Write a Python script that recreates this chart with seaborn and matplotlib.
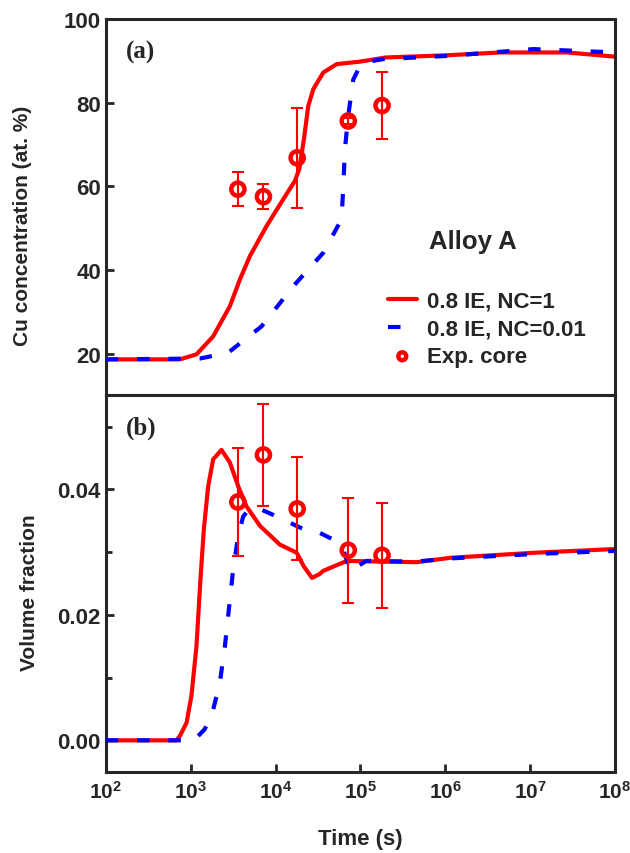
"""Cu concentration and volume fraction vs. time, Alloy A (two stacked panels)."""
import matplotlib
matplotlib.use("Agg")
import matplotlib.pyplot as plt
import pandas as pd
import seaborn as sns
from matplotlib.ticker import FixedLocator, FixedFormatter, MultipleLocator

# ---- panel (a): Cu concentration (at. %) ----
t_cu_nc1 = [100, 746, 1170, 1841, 2895, 3800, 4990, 7850, 12340, 16950,
            19050, 21630, 24320, 27860, 36560, 52500, 98800, 200000,
            1000000, 4500000, 27000000, 100000000]
cu_nc1 = [18.6, 18.6, 19.8, 24.1, 31.3, 37.7, 43.3, 50.5, 56.9, 61.3,
          64.1, 71.3, 79.2, 83.2, 87.2, 89.2, 89.8, 90.8,
          91.3, 92.0, 92.0, 91.0]

t_cu_nc001 = [100, 1283, 2766, 6850, 16200, 36560, 60000, 62700, 65800,
              71900, 82400, 98800, 117000, 186000, 1150000, 11000000,
              100000000]
cu_nc001 = [18.6, 18.8, 20.2, 26.5, 36.1, 44.1, 52.1, 59.3, 68.9,
            76.8, 85.5, 88.7, 89.7, 90.4, 91.2, 92.8, 92.0]

# ---- panel (b): volume fraction ----
t_vf_nc1 = [100, 680, 746, 894, 1021, 1170, 1304, 1429, 1607, 1841, 2309,
            2895, 3632, 4550, 6546, 11270, 17800, 21400, 26900, 33000,
            36300, 69000, 457000, 1150000, 11000000, 100000000]
vf_nc1 = [0.0, 0.0, 0.0007, 0.0028, 0.0071, 0.0150, 0.0257, 0.0336, 0.0405,
          0.0448, 0.0463, 0.0443, 0.0405, 0.0373, 0.0342, 0.0312, 0.0299,
          0.0278, 0.0259, 0.0265, 0.0270, 0.0286, 0.0284, 0.0291, 0.0299,
          0.0305]

t_vf_nc001 = [100, 1000, 1170, 1469, 1841, 2208, 2530, 2846, 3171, 3632,
              4159, 4990, 6250, 10700, 23400, 33000, 47900, 63000, 76000,
              117000, 457000, 1150000, 11000000, 100000000]
vf_nc001 = [0.0, 0.0, 0.0004, 0.0018, 0.0049, 0.0092, 0.0150, 0.0214,
            0.0273, 0.0326, 0.0357, 0.0370, 0.0370, 0.0356, 0.0334, 0.0331,
            0.0320, 0.0304, 0.0270, 0.0286, 0.0285, 0.0290, 0.0297, 0.0302]

# ---- experimental core measurements ----
t_exp = [3600, 7200, 18000, 72000, 180000]
cu_exp = [59.3, 57.5, 66.8, 75.6, 79.3]
cu_err = [4.0, 3.0, 12.0, 0.8, 8.0]
vf_exp = [0.0380, 0.0455, 0.0369, 0.0303, 0.0295]
vf_err = [0.0086, 0.0081, 0.0082, 0.0084, 0.0084]

ROJO = "#ff0000"
AZUL = "#0000ff"

sns.set_style("ticks")
plt.rcParams["font.family"] = ["Liberation Sans", "DejaVu Sans"]
plt.rcParams["font.weight"] = "bold"
plt.rcParams["axes.labelweight"] = "bold"
plt.rcParams["mathtext.fontset"] = "custom"
plt.rcParams["mathtext.rm"] = "Liberation Sans:bold"
plt.rcParams["mathtext.bf"] = "Liberation Sans:bold"
plt.rcParams["axes.linewidth"] = 2.2


def dibujar_panel(ax, t1, y1, t2, y2, y_exp, y_err, etiquetas):
    d1 = pd.DataFrame({"t": t1, "y": y1})
    d2 = pd.DataFrame({"t": t2, "y": y2})
    dexp = pd.DataFrame({"t": t_exp, "y": y_exp, "err": y_err})
    sns.lineplot(data=d1, x="t", y="y", color=ROJO, lw=3, sort=False,
                 estimator=None, label=etiquetas[0], ax=ax, zorder=2)
    sns.lineplot(data=d2, x="t", y="y", color=AZUL, lw=3, sort=False,
                 estimator=None, label=etiquetas[1], ax=ax, zorder=3,
                 linestyle=(0, (3, 4.5)))
    ax.errorbar(dexp["t"], dexp["y"], yerr=dexp["err"], fmt="none",
                ecolor=ROJO, elinewidth=1.5, capsize=4, capthick=1.5,
                zorder=4)
    sns.scatterplot(data=dexp, x="t", y="y", marker="o", s=90,
                    facecolors="none", edgecolor=ROJO, linewidth=3.2,
                    label=etiquetas[2], ax=ax, zorder=5)
    ax.set_xscale("log")
    ax.set_xlim(1e2, 1e8)
    ax.tick_params(direction="in", width=2, length=6, labelsize=16,
                   top=False, right=False)
    ax.tick_params(which="minor", direction="in", width=2, length=4)
    ax.xaxis.set_minor_locator(FixedLocator([]))


fig, (ax1, ax2) = plt.subplots(2, 1, figsize=(6.3, 8.54), dpi=100,
                               sharex=True)
fig.subplots_adjust(left=0.168, right=0.976, top=0.9766, bottom=0.0952,
                    hspace=0)

etiquetas = ["0.8 IE, NC=1", "0.8 IE, NC=0.01", "Exp. core"]
dibujar_panel(ax1, t_cu_nc1, cu_nc1, t_cu_nc001, cu_nc001,
              cu_exp, cu_err, etiquetas)
dibujar_panel(ax2, t_vf_nc1, vf_nc1, t_vf_nc001, vf_nc001,
              vf_exp, vf_err, etiquetas)

ax1.set_ylim(10, 100)
ax1.yaxis.set_major_locator(FixedLocator([20, 40, 60, 80, 100]))
ax2.set_ylim(-0.005, 0.055)
ax2.yaxis.set_major_locator(FixedLocator([0.0, 0.02, 0.04]))
ax2.yaxis.set_major_formatter(FixedFormatter(["0.00", "0.02", "0.04"]))
ax2.yaxis.set_minor_locator(MultipleLocator(0.01))

decadas = [2, 3, 4, 5, 6, 7, 8]
ax2.xaxis.set_major_locator(FixedLocator([10.0 ** d for d in decadas]))
ax2.xaxis.set_major_formatter(
    FixedFormatter([rf"$\mathbf{{10^{{{d}}}}}$" for d in decadas]))
ax2.tick_params(axis="x", pad=6, labelsize=15)
ax1.tick_params(axis="x", length=0)

ax1.set_xlabel("")
ax2.set_xlabel("Time (s)", fontsize=16, labelpad=19)
ax1.set_ylabel("Cu concentration (at. %)", fontsize=15)
ax2.set_ylabel("Volume fraction", fontsize=15)
ax1.yaxis.set_label_coords(-0.145, 0.452)
ax2.yaxis.set_label_coords(-0.132, 0.477)

for ax, letra in [(ax1, "(a)"), (ax2, "(b)")]:
    ax.text(0.039, 0.915, letra, transform=ax.transAxes, fontsize=18,
            fontweight="bold", family=["Liberation Serif", "DejaVu Serif"],
            ha="left", va="center")

ax1.text(0.721, 0.41, "Alloy A", transform=ax1.transAxes, fontsize=18.5,
         fontweight="bold", ha="center", va="center")
ax1.legend(loc="lower left", bbox_to_anchor=(0.554, 0.075), frameon=False,
           prop={"weight": "bold", "size": 16}, handlelength=1.3,
           handletextpad=0.45, labelspacing=0.3, markerscale=0.6,
           borderpad=0, borderaxespad=0)
ax2.get_legend().remove()

fig.savefig("out.png", dpi=100)
